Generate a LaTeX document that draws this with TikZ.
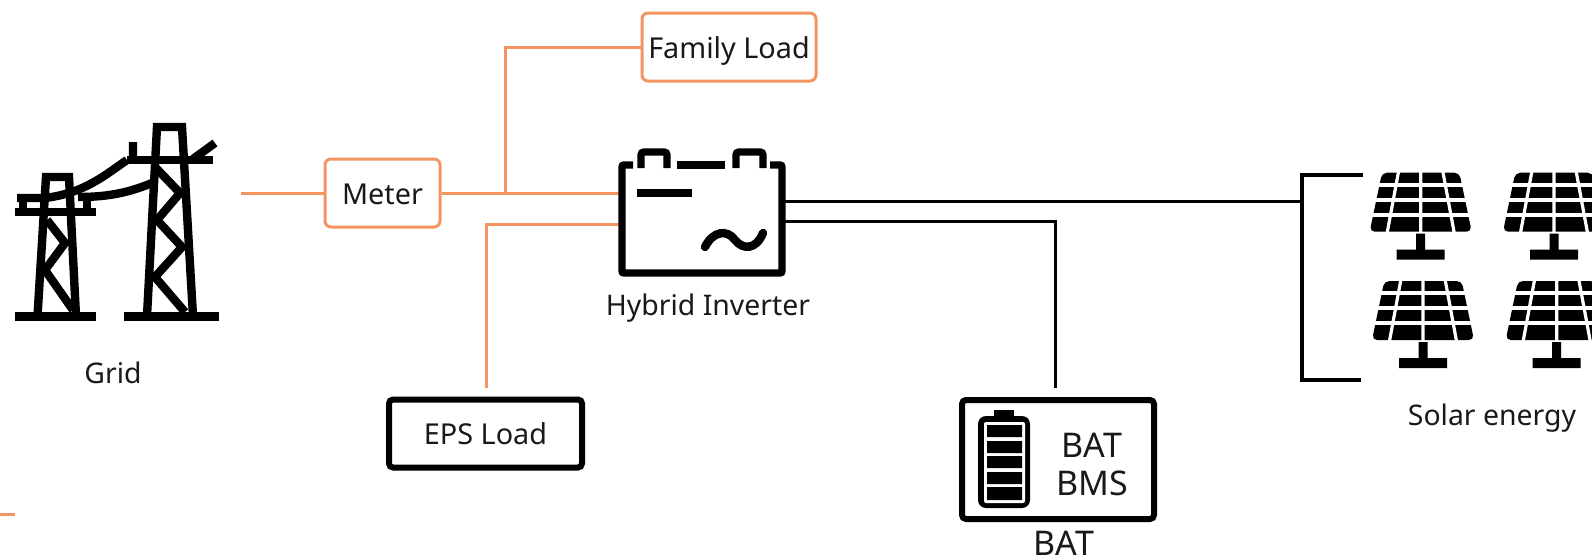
\documentclass[tikz,border=0pt]{standalone}
\usepackage{fontspec}
\setmainfont{Noto Sans}
\definecolor{linkorange}{HTML}{F39461}
\tikzset{
  x=0.5pt,y=-0.5pt,
  lbl/.style={font=\fontsize{14.2}{16}\selectfont,inner sep=0pt,text=black!90},
  biglbl/.style={font=\fontsize{17}{18}\selectfont,inner sep=0pt,text=black!90},
  boxtext/.style={font=\fontsize{14.4}{16}\selectfont,text=black!90,text height=11.4pt,text depth=0pt},
  orangebox/.style={draw=linkorange,line width=1.5pt,rounded corners=3pt,fill=white,inner sep=0pt,boxtext},
  blackbox/.style={draw=black,line width=3pt,rounded corners=2pt,fill=white,inner sep=0pt,boxtext},
  olink/.style={draw=linkorange,line width=1.5pt},
  blink/.style={draw=black,line width=1.5pt},
  bracketline/.style={draw=black,line width=1.8pt},
  icon/.style={draw=black,line width=3.7pt},
  tower/.style={draw=black,line width=4.2pt},
  towerbase/.style={draw=black,line width=4.7pt},
  pics/panel/.style={code={
    \begin{scope}
      \clip (-60,-2) rectangle (60,60);
      \fill[black,rounded corners=2.5pt] (-38.7,0) -- (38.7,0) -- (51,59) -- (-51,59) -- cycle;
      \draw[white,line width=2pt] (-60,12.2) -- (60,12.2) (-60,26.8) -- (60,26.8) (-60,41.8) -- (60,41.8);
      \draw[white,line width=1.6pt] (0,-2) -- (0,60) (-22,-2) -- (-33.5,60) (22,-2) -- (33.5,60);
    \end{scope}
    \fill[black] (-4.5,61) rectangle (4.5,78) (-24,77) rectangle (24,87);
  }}
}
\begin{document}
\begin{tikzpicture}
\useasboundingbox (0,0) rectangle (1592,559);
% named points
\coordinate (gridend) at (241,193);
\coordinate (invOrA) at (622,193);
\coordinate (invOrB) at (622,224);
\coordinate (invBlA) at (782,201);
\coordinate (invBlB) at (782,221);
\coordinate (junction) at (505,193);
\coordinate (epsend) at (486,388);
\coordinate (batend) at (1055,388);
\coordinate (brk) at (1302,201);
% boxes
\node[orangebox,minimum width=57.5pt,minimum height=34pt] (meter) at (382.5,193) {Meter};
\node[orangebox,minimum width=87pt,minimum height=34pt] (family) at (729,47) {Family Load};
\node[blackbox,minimum width=96.5pt,minimum height=34pt] (eps) at (485.5,433.5) {EPS Load};
\node[blackbox,minimum width=96pt,minimum height=59.5pt] (bat) at (1058,459.5) {};
% connectors
\draw[olink] (gridend) -- (meter.west);
\draw[olink] (meter.east) -- (invOrA);
\draw[olink] (junction) |- (family.west);
\draw[olink] (invOrB) -| (epsend);
\draw[blink] (invBlA) -- (brk);
\draw[blink] (invBlB) -| (batend);
\draw[bracketline] (1363,175) -| (1302,380) -- (1361,380);
% inverter
\draw[icon,rounded corners=1pt,line cap=butt] (633,165) -- (622,165) -- (622,273) -- (782,273) -- (782,165) -- (770,165);
\draw[icon,rounded corners=1.5pt] (641,168) -- (641,152) -- (667,152) -- (667,168);
\draw[icon,rounded corners=1.5pt] (736,168) -- (736,152) -- (763,152) -- (763,168);
\draw[icon] (677,165) -- (725,165);
\draw[icon] (637,193) -- (692,193);
\draw[icon,line cap=round,line width=4.2pt] (705,247) .. controls (713,231) and (727,229) .. (735,240) .. controls (743,250) and (756,250) .. (763,233);
% grid tower, large
\draw[towerbase] (124,316.5) -- (219,316.5);
\draw[tower,line join=miter] (147,316) -- (157,127) -- (182,127) -- (193,316);
\draw[tower] (127,160) -- (213,160);
\draw[tower] (193,159) -- (215,143);
\draw[tower] (155,167) -- (180,193) -- (157,220) -- (182,247) -- (155,277) -- (185,312);
% grid tower, small
\draw[towerbase] (15,316.5) -- (96,316.5);
\draw[tower,line join=miter] (37.5,316) -- (46,177) -- (69,177) -- (76,316);
\draw[tower] (15,212) -- (96,212);
\draw[tower] (47,220) -- (65,243) -- (45,270) -- (73,310);
% cables
\draw[tower] (17,198) -- (45,198) .. controls (85,193) and (105,175) .. (127,160) (133,158) -- (133,142);
\draw[tower] (78,197) .. controls (110,197) and (130,192) .. (152,183);
\draw[tower] (23,198) -- (23,212) (87,195) -- (87,212);
% solar
\pic at (1420.7,172.7) {panel};
\pic at (1554,172.7) {panel};
\pic at (1423,281) {panel};
\pic at (1556.7,281) {panel};
% battery icon
\fill[black,rounded corners=4pt] (978,416) rectangle (1030,508);
\fill[black] (994,410) rectangle (1014,418);
\fill[white,rounded corners=1pt] (984,422) rectangle (1025,503);
\fill[black] (987,425) rectangle (1022,437) (987,441) rectangle (1022,453) (987,456) rectangle (1022,468) (987,472) rectangle (1022,484) (987,487) rectangle (1022,500);
% stray mark
\draw[olink] (0,514) -- (15,514);
% labels
\node[lbl] (gridlbl) at (113,373) {Grid};
\node[lbl] (invlbl) at (708,308) {Hybrid Inverter};
\node[lbl] (solarlbl) at (1492,418) {Solar energy};
\node[biglbl] (batname) at (1092,445) {BAT};
\node[biglbl] (batbms) at (1092,483) {BMS};
\node[biglbl] (batlbl) at (1064,543) {BAT};
\end{tikzpicture}
\end{document}
